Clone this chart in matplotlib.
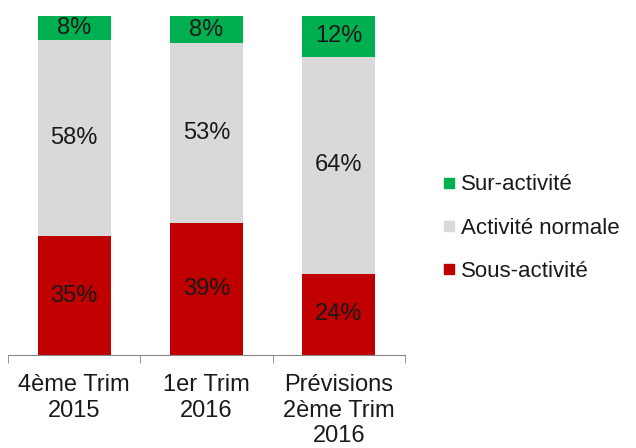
import matplotlib.pyplot as plt
from matplotlib.lines import Line2D

plt.rcParams['font.family'] = ['Liberation Sans', 'DejaVu Sans']

# données
categories = ["4ème Trim\n2015", "1er Trim\n2016", "Prévisions\n2ème Trim\n2016"]
sous_activite = [35, 39, 24]
activite_normale = [58, 53, 64]
sur_activite = [8, 8, 12]

series = ["Sous-activité", "Activité normale", "Sur-activité"]
colors = ["#C00000", "#D9D9D9", "#00B050"]
text_color = "#1a1a1a"

fig = plt.figure(figsize=(6.36, 4.48), dpi=100)
ax = fig.add_axes([8 / 636, 93 / 448, 397 / 636, 339 / 448])

x = range(len(categories))
bottom = [0] * len(categories)
for vals, col in zip([sous_activite, activite_normale, sur_activite], colors):
    bars = ax.bar(x, vals, bottom=bottom, width=0.55, color=col)
    for b, v, y0 in zip(bars, vals, bottom):
        # centre sur la partie visible (le total peut dépasser 100 % par arrondi)
        yc = (y0 + min(y0 + v, 100)) / 2
        ax.text(b.get_x() + b.get_width() / 2, yc, f"{v}%",
                ha="center", va="center", fontsize=17, color=text_color)
    bottom = [a + b for a, b in zip(bottom, vals)]

ax.set_xlim(-0.5, 2.5)
ax.set_ylim(0, 100)
ax.set_yticks([])
ax.set_xticks(list(x))
ax.set_xticklabels(categories, fontsize=17, color=text_color, linespacing=1.2)
ax.set_xticks([-0.5, 0.5, 1.5, 2.5], minor=True)
ax.tick_params(axis="x", which="major", length=0, pad=14)
ax.tick_params(axis="x", which="minor", length=6, color="#888888")
for s in ["top", "left", "right"]:
    ax.spines[s].set_visible(False)
ax.spines["bottom"].set_color("#888888")

# légende
handles = [Line2D([], [], marker="s", linestyle="none", markersize=7,
                  color=c) for c in colors[::-1]]
fig.legend(handles, series[::-1], loc="center left",
           bbox_to_anchor=(421 / 636, 1 - 228 / 448), frameon=False,
           fontsize=16, labelcolor=text_color, handletextpad=0.2,
           handlelength=0.7, labelspacing=1.0)

fig.savefig("out.png", dpi=100)
